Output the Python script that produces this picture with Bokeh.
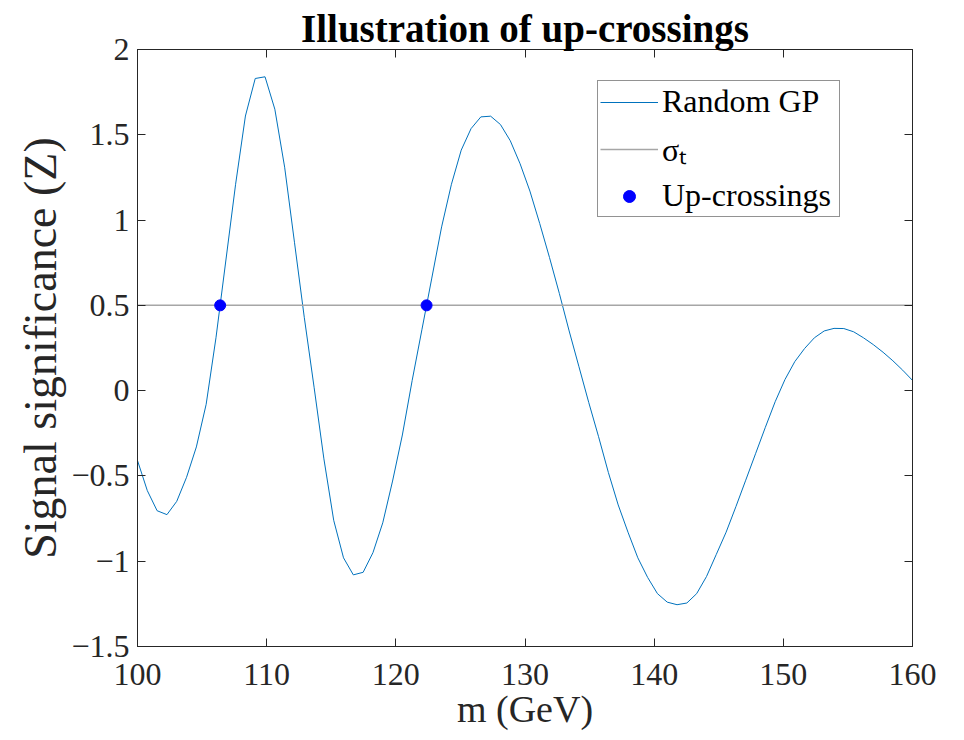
import numpy as np
from bokeh.plotting import figure
from bokeh.models import Range1d, LinearAxis, FixedTicker, Legend, LegendItem, ColumnDataSource
from bokeh.embed import file_html
from bokeh.resources import INLINE

# ---- data ----
m_start, m_stop, n_pts = 100, 160, 80
gp_z = [
    -0.41, -0.586, -0.704, -0.727, -0.649, -0.508, -0.33, -0.08, 0.31, 0.76,
    1.21, 1.61, 1.83, 1.84, 1.65, 1.31, 0.87, 0.43, 0.02, -0.40,
    -0.76, -0.98, -1.08, -1.065, -0.95, -0.775, -0.53, -0.26, 0.06, 0.36,
    0.66, 0.96, 1.21, 1.41, 1.536, 1.605, 1.609, 1.56, 1.465, 1.33,
    1.17, 0.98, 0.78, 0.57, 0.35, 0.14, -0.07, -0.27, -0.48, -0.67,
    -0.83, -0.98, -1.095, -1.19, -1.24, -1.255, -1.245, -1.19, -1.09, -0.96,
    -0.83, -0.68, -0.525, -0.37, -0.215, -0.065, 0.065, 0.17, 0.247, 0.31,
    0.35, 0.365, 0.364, 0.345, 0.31, 0.27, 0.225, 0.175, 0.12, 0.06,
]
gp_m = list(np.linspace(m_start, m_stop, n_pts))

thr_m = [100, 160]
thr_z = [0.5, 0.5]

up_m = [106.4, 122.38]
up_z = [0.5, 0.5]

x_ticks = [100, 110, 120, 130, 140, 150, 160]
x_tick_labels = ["100", "110", "120", "130", "140", "150", "160"]
y_ticks = [-1.5, -1, -0.5, 0, 0.5, 1, 1.5, 2]
y_tick_labels = ["\u22121.5", "\u22121", "\u22120.5", "0", "0.5", "1", "1.5", "2"]

FONT = "Liberation Serif"
AX = "#262626"

p = figure(width=964, height=740, x_range=Range1d(100, 160), y_range=Range1d(-1.5, 2),
           output_backend="svg", toolbar_location=None,
           min_border_left=137, min_border_right=52, min_border_top=49, min_border_bottom=94)
p.xgrid.visible = False
p.ygrid.visible = False
p.outline_line_color = AX
p.outline_line_width = 1
p.background_fill_color = "white"
p.border_fill_color = "white"

p.title.text = "Illustration of up-crossings"
p.title.align = "center"
p.title.text_font = FONT
p.title.text_font_style = "bold"
p.title.text_font_size = "39px"
p.title.text_color = "black"
p.title.standoff = 0

def style_axis(ax, ticks, labels, show_labels=True):
    ax.ticker = FixedTicker(ticks=ticks)
    ax.major_label_overrides = {t: l for t, l in zip(ticks, labels)}
    ax.major_tick_in = 8
    ax.major_tick_out = 0
    ax.minor_tick_in = 0
    ax.minor_tick_out = 0
    ax.axis_line_color = AX
    ax.major_tick_line_color = AX
    ax.major_label_text_font = FONT
    ax.major_label_text_color = "#262626"
    if show_labels:
        ax.major_label_text_font_size = "32px"
    else:
        ax.major_label_text_font_size = "0px"
        ax.major_label_text_alpha = 0
        ax.major_label_standoff = 0

style_axis(p.xaxis[0], x_ticks, x_tick_labels)
style_axis(p.yaxis[0], y_ticks, y_tick_labels)
p.xaxis[0].major_label_standoff = 17
p.yaxis[0].major_label_standoff = 8
p.xaxis[0].axis_label = "m (GeV)"
p.yaxis[0].axis_label = "Signal significance (Z)"
for ax in (p.xaxis[0], p.yaxis[0]):
    ax.axis_label_text_font = FONT
    ax.axis_label_text_font_style = "normal"
    ax.axis_label_text_color = "#262626"
p.xaxis[0].axis_label_text_font_size = "38px"
p.xaxis[0].axis_label_standoff = 0
p.yaxis[0].axis_label_text_font_size = "46px"
p.yaxis[0].axis_label_standoff = 2

top_ax = LinearAxis()
style_axis(top_ax, x_ticks, x_tick_labels, show_labels=False)
p.add_layout(top_ax, "above")
right_ax = LinearAxis()
style_axis(right_ax, y_ticks, y_tick_labels, show_labels=False)
p.add_layout(right_ax, "right")

src_gp = ColumnDataSource(dict(m=gp_m, z=gp_z))
src_thr = ColumnDataSource(dict(m=thr_m, z=thr_z))
src_up = ColumnDataSource(dict(m=up_m, z=up_z))

r_gp = p.line("m", "z", source=src_gp, line_color="#0072BD", line_width=1)
r_thr = p.line("m", "z", source=src_thr, line_color="#a6a6a6", line_width=1.5)
r_up = p.scatter("m", "z", source=src_up, size=11, fill_color="#0000ff", line_color="#0000ff")

legend = Legend(items=[
    LegendItem(label="Random GP", renderers=[r_gp]),
    LegendItem(label="σₜ", renderers=[r_thr]),
    LegendItem(label="Up-crossings", renderers=[r_up]),
], location=(460, 429))
legend.label_text_font = FONT
legend.label_text_font_size = "32px"
legend.label_text_color = "black"
legend.glyph_width = 58
legend.glyph_height = 30
legend.label_height = 30
legend.label_width = 175
legend.label_standoff = 4
legend.spacing = 7
legend.padding = 2
legend.margin = 0
legend.border_line_color = AX
legend.border_line_width = 1
legend.background_fill_color = "white"
legend.background_fill_alpha = 1
p.add_layout(legend)

open("out.html", "w").write(file_html(p, INLINE))
